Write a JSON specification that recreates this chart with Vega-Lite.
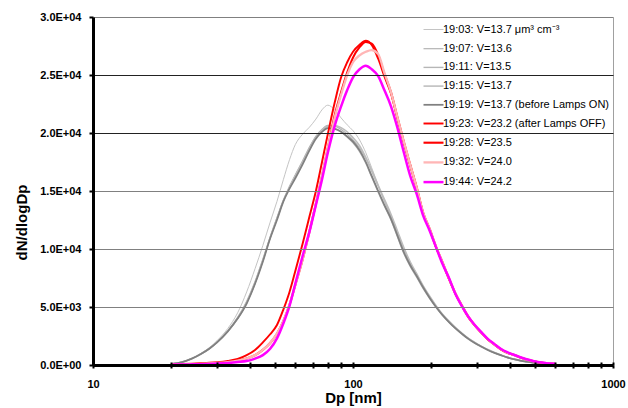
{
"$schema":"https://vega.github.io/schema/vega-lite/v6.json",
"width":520,"height":348,"autosize":"none",
"padding":{"left":93,"top":17,"right":15,"bottom":43},
"background":"white",
"datasets":{
"labels":[
{"t":"19:03","label":"19:03: V=13.7  μm³ cm⁻³"},
{"t":"19:07","label":"19:07: V=13.6"},
{"t":"19:11","label":"19:11: V=13.5"},
{"t":"19:15","label":"19:15: V=13.7"},
{"t":"19:19","label":"19:19: V=13.7 (before Lamps ON)"},
{"t":"19:23","label":"19:23: V=23.2 (after Lamps OFF)"},
{"t":"19:28","label":"19:28: V=23.5"},
{"t":"19:32","label":"19:32: V=24.0"},
{"t":"19:44","label":"19:44: V=24.2"}
],
"pts":[
{"t":"19:03","d":20,"v":100},{"t":"19:03","d":22,"v":260},{"t":"19:03","d":24,"v":560},{"t":"19:03","d":26,"v":1000},{"t":"19:03","d":28,"v":1500},{"t":"19:03","d":30,"v":2100},{"t":"19:03","d":33,"v":3150},{"t":"19:03","d":36,"v":4500},{"t":"19:03","d":39,"v":6300},{"t":"19:03","d":42,"v":8300},{"t":"19:03","d":45,"v":10300},{"t":"19:03","d":48,"v":12300},{"t":"19:03","d":51,"v":14100},{"t":"19:03","d":54,"v":16000},{"t":"19:03","d":57,"v":17700},{"t":"19:03","d":60,"v":19000},{"t":"19:03","d":64,"v":19900},{"t":"19:03","d":68,"v":20500},{"t":"19:03","d":72,"v":21200},{"t":"19:03","d":76,"v":22000},{"t":"19:03","d":80,"v":22400},{"t":"19:03","d":85,"v":22000},{"t":"19:03","d":90,"v":21300},{"t":"19:03","d":95,"v":20700},{"t":"19:03","d":100,"v":20200},{"t":"19:03","d":106,"v":19400},{"t":"19:03","d":112,"v":18300},{"t":"19:03","d":118,"v":17000},{"t":"19:03","d":125,"v":15500},{"t":"19:03","d":132,"v":14100},{"t":"19:03","d":140,"v":12800},{"t":"19:03","d":148,"v":11300},{"t":"19:03","d":157,"v":9800},{"t":"19:03","d":166,"v":8700},{"t":"19:03","d":176,"v":7700},{"t":"19:03","d":186,"v":6700},{"t":"19:03","d":197,"v":5800},{"t":"19:03","d":209,"v":5000},{"t":"19:03","d":221,"v":4300},{"t":"19:03","d":234,"v":3700},{"t":"19:03","d":248,"v":3150},{"t":"19:03","d":262,"v":2700},{"t":"19:03","d":278,"v":2250},{"t":"19:03","d":294,"v":1900},{"t":"19:03","d":311,"v":1600},{"t":"19:03","d":330,"v":1300},{"t":"19:03","d":350,"v":1050},{"t":"19:03","d":370,"v":850},{"t":"19:03","d":392,"v":650},{"t":"19:03","d":415,"v":500},{"t":"19:03","d":440,"v":370},{"t":"19:03","d":465,"v":280},{"t":"19:03","d":493,"v":200},{"t":"19:03","d":522,"v":150},{"t":"19:03","d":553,"v":110},{"t":"19:03","d":600,"v":80},
{"t":"19:07","d":20,"v":110},{"t":"19:07","d":22,"v":260},{"t":"19:07","d":24,"v":560},{"t":"19:07","d":26,"v":960},{"t":"19:07","d":28,"v":1420},{"t":"19:07","d":30,"v":1980},{"t":"19:07","d":33,"v":2950},{"t":"19:07","d":36,"v":4100},{"t":"19:07","d":39,"v":5500},{"t":"19:07","d":42,"v":7200},{"t":"19:07","d":45,"v":9100},{"t":"19:07","d":48,"v":11000},{"t":"19:07","d":51,"v":12700},{"t":"19:07","d":54,"v":14200},{"t":"19:07","d":57,"v":15400},{"t":"19:07","d":60,"v":16400},{"t":"19:07","d":64,"v":17600},{"t":"19:07","d":68,"v":18800},{"t":"19:07","d":72,"v":19700},{"t":"19:07","d":76,"v":20300},{"t":"19:07","d":80,"v":20650},{"t":"19:07","d":85,"v":20600},{"t":"19:07","d":90,"v":20300},{"t":"19:07","d":95,"v":19900},{"t":"19:07","d":100,"v":19400},{"t":"19:07","d":106,"v":18700},{"t":"19:07","d":112,"v":17800},{"t":"19:07","d":118,"v":16700},{"t":"19:07","d":125,"v":15400},{"t":"19:07","d":132,"v":14200},{"t":"19:07","d":140,"v":12900},{"t":"19:07","d":148,"v":11500},{"t":"19:07","d":157,"v":10000},{"t":"19:07","d":166,"v":8800},{"t":"19:07","d":176,"v":7800},{"t":"19:07","d":186,"v":6800},{"t":"19:07","d":197,"v":5900},{"t":"19:07","d":209,"v":5050},{"t":"19:07","d":221,"v":4350},{"t":"19:07","d":234,"v":3750},{"t":"19:07","d":248,"v":3200},{"t":"19:07","d":262,"v":2750},{"t":"19:07","d":278,"v":2300},{"t":"19:07","d":294,"v":1950},{"t":"19:07","d":311,"v":1620},{"t":"19:07","d":330,"v":1320},{"t":"19:07","d":350,"v":1070},{"t":"19:07","d":370,"v":860},{"t":"19:07","d":392,"v":660},{"t":"19:07","d":415,"v":510},{"t":"19:07","d":440,"v":380},{"t":"19:07","d":465,"v":285},{"t":"19:07","d":493,"v":205},{"t":"19:07","d":522,"v":150},{"t":"19:07","d":553,"v":110},{"t":"19:07","d":600,"v":80},
{"t":"19:11","d":20,"v":95},{"t":"19:11","d":22,"v":240},{"t":"19:11","d":24,"v":540},{"t":"19:11","d":26,"v":940},{"t":"19:11","d":28,"v":1390},{"t":"19:11","d":30,"v":1940},{"t":"19:11","d":33,"v":2880},{"t":"19:11","d":36,"v":4000},{"t":"19:11","d":39,"v":5350},{"t":"19:11","d":42,"v":7050},{"t":"19:11","d":45,"v":9000},{"t":"19:11","d":48,"v":10950},{"t":"19:11","d":51,"v":12600},{"t":"19:11","d":54,"v":14150},{"t":"19:11","d":57,"v":15300},{"t":"19:11","d":60,"v":16300},{"t":"19:11","d":64,"v":17500},{"t":"19:11","d":68,"v":18700},{"t":"19:11","d":72,"v":19700},{"t":"19:11","d":76,"v":20300},{"t":"19:11","d":80,"v":20550},{"t":"19:11","d":85,"v":20400},{"t":"19:11","d":90,"v":20100},{"t":"19:11","d":95,"v":19650},{"t":"19:11","d":100,"v":19150},{"t":"19:11","d":106,"v":18400},{"t":"19:11","d":112,"v":17400},{"t":"19:11","d":118,"v":16200},{"t":"19:11","d":125,"v":14900},{"t":"19:11","d":132,"v":13700},{"t":"19:11","d":140,"v":12500},{"t":"19:11","d":148,"v":11100},{"t":"19:11","d":157,"v":9600},{"t":"19:11","d":166,"v":8500},{"t":"19:11","d":176,"v":7550},{"t":"19:11","d":186,"v":6600},{"t":"19:11","d":197,"v":5750},{"t":"19:11","d":209,"v":4950},{"t":"19:11","d":221,"v":4280},{"t":"19:11","d":234,"v":3680},{"t":"19:11","d":248,"v":3130},{"t":"19:11","d":262,"v":2680},{"t":"19:11","d":278,"v":2230},{"t":"19:11","d":294,"v":1880},{"t":"19:11","d":311,"v":1580},{"t":"19:11","d":330,"v":1290},{"t":"19:11","d":350,"v":1040},{"t":"19:11","d":370,"v":840},{"t":"19:11","d":392,"v":640},{"t":"19:11","d":415,"v":490},{"t":"19:11","d":440,"v":365},{"t":"19:11","d":465,"v":275},{"t":"19:11","d":493,"v":195},{"t":"19:11","d":522,"v":145},{"t":"19:11","d":553,"v":105},{"t":"19:11","d":600,"v":78},
{"t":"19:15","d":20,"v":105},{"t":"19:15","d":22,"v":255},{"t":"19:15","d":24,"v":555},{"t":"19:15","d":26,"v":955},{"t":"19:15","d":28,"v":1410},{"t":"19:15","d":30,"v":1960},{"t":"19:15","d":33,"v":2920},{"t":"19:15","d":36,"v":4050},{"t":"19:15","d":39,"v":5400},{"t":"19:15","d":42,"v":7100},{"t":"19:15","d":45,"v":9050},{"t":"19:15","d":48,"v":11000},{"t":"19:15","d":51,"v":12650},{"t":"19:15","d":54,"v":14200},{"t":"19:15","d":57,"v":15350},{"t":"19:15","d":60,"v":16300},{"t":"19:15","d":64,"v":17450},{"t":"19:15","d":68,"v":18600},{"t":"19:15","d":72,"v":19600},{"t":"19:15","d":76,"v":20250},{"t":"19:15","d":80,"v":20600},{"t":"19:15","d":85,"v":20650},{"t":"19:15","d":90,"v":20450},{"t":"19:15","d":95,"v":20100},{"t":"19:15","d":100,"v":19600},{"t":"19:15","d":106,"v":18900},{"t":"19:15","d":112,"v":17900},{"t":"19:15","d":118,"v":16800},{"t":"19:15","d":125,"v":15500},{"t":"19:15","d":132,"v":14300},{"t":"19:15","d":140,"v":13000},{"t":"19:15","d":148,"v":11600},{"t":"19:15","d":157,"v":10100},{"t":"19:15","d":166,"v":8900},{"t":"19:15","d":176,"v":7850},{"t":"19:15","d":186,"v":6850},{"t":"19:15","d":197,"v":5950},{"t":"19:15","d":209,"v":5100},{"t":"19:15","d":221,"v":4380},{"t":"19:15","d":234,"v":3780},{"t":"19:15","d":248,"v":3220},{"t":"19:15","d":262,"v":2760},{"t":"19:15","d":278,"v":2300},{"t":"19:15","d":294,"v":1950},{"t":"19:15","d":311,"v":1630},{"t":"19:15","d":330,"v":1330},{"t":"19:15","d":350,"v":1080},{"t":"19:15","d":370,"v":870},{"t":"19:15","d":392,"v":670},{"t":"19:15","d":415,"v":515},{"t":"19:15","d":440,"v":385},{"t":"19:15","d":465,"v":290},{"t":"19:15","d":493,"v":210},{"t":"19:15","d":522,"v":155},{"t":"19:15","d":553,"v":112},{"t":"19:15","d":600,"v":82},
{"t":"19:19","d":20,"v":100},{"t":"19:19","d":22,"v":250},{"t":"19:19","d":24,"v":550},{"t":"19:19","d":26,"v":950},{"t":"19:19","d":28,"v":1400},{"t":"19:19","d":30,"v":1950},{"t":"19:19","d":33,"v":2900},{"t":"19:19","d":36,"v":4000},{"t":"19:19","d":39,"v":5300},{"t":"19:19","d":42,"v":7000},{"t":"19:19","d":45,"v":8900},{"t":"19:19","d":48,"v":10900},{"t":"19:19","d":51,"v":12500},{"t":"19:19","d":54,"v":14100},{"t":"19:19","d":57,"v":15200},{"t":"19:19","d":60,"v":16100},{"t":"19:19","d":64,"v":17300},{"t":"19:19","d":68,"v":18500},{"t":"19:19","d":72,"v":19500},{"t":"19:19","d":76,"v":20100},{"t":"19:19","d":80,"v":20430},{"t":"19:19","d":85,"v":20350},{"t":"19:19","d":90,"v":20100},{"t":"19:19","d":95,"v":19700},{"t":"19:19","d":100,"v":19250},{"t":"19:19","d":106,"v":18500},{"t":"19:19","d":112,"v":17500},{"t":"19:19","d":118,"v":16300},{"t":"19:19","d":125,"v":15000},{"t":"19:19","d":132,"v":13800},{"t":"19:19","d":140,"v":12600},{"t":"19:19","d":148,"v":11200},{"t":"19:19","d":157,"v":9700},{"t":"19:19","d":166,"v":8600},{"t":"19:19","d":176,"v":7650},{"t":"19:19","d":186,"v":6700},{"t":"19:19","d":197,"v":5800},{"t":"19:19","d":209,"v":4980},{"t":"19:19","d":221,"v":4300},{"t":"19:19","d":234,"v":3700},{"t":"19:19","d":248,"v":3150},{"t":"19:19","d":262,"v":2700},{"t":"19:19","d":278,"v":2250},{"t":"19:19","d":294,"v":1900},{"t":"19:19","d":311,"v":1600},{"t":"19:19","d":330,"v":1300},{"t":"19:19","d":350,"v":1050},{"t":"19:19","d":370,"v":850},{"t":"19:19","d":392,"v":650},{"t":"19:19","d":415,"v":500},{"t":"19:19","d":440,"v":370},{"t":"19:19","d":465,"v":280},{"t":"19:19","d":493,"v":200},{"t":"19:19","d":522,"v":150},{"t":"19:19","d":553,"v":110},{"t":"19:19","d":600,"v":80},
{"t":"19:23","d":20,"v":60},{"t":"19:23","d":22,"v":80},{"t":"19:23","d":24,"v":110},{"t":"19:23","d":26,"v":150},{"t":"19:23","d":28,"v":190},{"t":"19:23","d":30,"v":240},{"t":"19:23","d":33,"v":350},{"t":"19:23","d":36,"v":520},{"t":"19:23","d":39,"v":850},{"t":"19:23","d":42,"v":1300},{"t":"19:23","d":45,"v":1950},{"t":"19:23","d":48,"v":2650},{"t":"19:23","d":51,"v":3450},{"t":"19:23","d":54,"v":4800},{"t":"19:23","d":57,"v":6300},{"t":"19:23","d":60,"v":8100},{"t":"19:23","d":64,"v":10450},{"t":"19:23","d":68,"v":12800},{"t":"19:23","d":72,"v":15000},{"t":"19:23","d":76,"v":17500},{"t":"19:23","d":80,"v":19900},{"t":"19:23","d":85,"v":22600},{"t":"19:23","d":90,"v":24800},{"t":"19:23","d":95,"v":26100},{"t":"19:23","d":100,"v":27000},{"t":"19:23","d":106,"v":27600},{"t":"19:23","d":112,"v":27950},{"t":"19:23","d":118,"v":27600},{"t":"19:23","d":125,"v":26400},{"t":"19:23","d":132,"v":24900},{"t":"19:23","d":140,"v":23400},{"t":"19:23","d":148,"v":21300},{"t":"19:23","d":157,"v":19100},{"t":"19:23","d":166,"v":17200},{"t":"19:23","d":176,"v":15200},{"t":"19:23","d":186,"v":13100},{"t":"19:23","d":197,"v":11700},{"t":"19:23","d":209,"v":10100},{"t":"19:23","d":221,"v":8800},{"t":"19:23","d":234,"v":7400},{"t":"19:23","d":248,"v":6100},{"t":"19:23","d":262,"v":5100},{"t":"19:23","d":278,"v":4100},{"t":"19:23","d":294,"v":3400},{"t":"19:23","d":311,"v":2800},{"t":"19:23","d":330,"v":2200},{"t":"19:23","d":350,"v":1750},{"t":"19:23","d":370,"v":1350},{"t":"19:23","d":392,"v":1050},{"t":"19:23","d":415,"v":880},{"t":"19:23","d":440,"v":650},{"t":"19:23","d":465,"v":470},{"t":"19:23","d":493,"v":340},{"t":"19:23","d":522,"v":220},{"t":"19:23","d":553,"v":150},{"t":"19:23","d":600,"v":90},
{"t":"19:28","d":20,"v":40},{"t":"19:28","d":22,"v":55},{"t":"19:28","d":24,"v":75},{"t":"19:28","d":26,"v":100},{"t":"19:28","d":28,"v":130},{"t":"19:28","d":30,"v":170},{"t":"19:28","d":33,"v":250},{"t":"19:28","d":36,"v":370},{"t":"19:28","d":39,"v":560},{"t":"19:28","d":42,"v":850},{"t":"19:28","d":45,"v":1300},{"t":"19:28","d":48,"v":1900},{"t":"19:28","d":51,"v":2700},{"t":"19:28","d":54,"v":3800},{"t":"19:28","d":57,"v":5200},{"t":"19:28","d":60,"v":6900},{"t":"19:28","d":64,"v":9100},{"t":"19:28","d":68,"v":11500},{"t":"19:28","d":72,"v":13900},{"t":"19:28","d":76,"v":16300},{"t":"19:28","d":80,"v":18700},{"t":"19:28","d":85,"v":21500},{"t":"19:28","d":90,"v":23500},{"t":"19:28","d":95,"v":25200},{"t":"19:28","d":100,"v":26500},{"t":"19:28","d":106,"v":27400},{"t":"19:28","d":112,"v":27850},{"t":"19:28","d":118,"v":27700},{"t":"19:28","d":125,"v":26700},{"t":"19:28","d":132,"v":25100},{"t":"19:28","d":140,"v":23500},{"t":"19:28","d":148,"v":21400},{"t":"19:28","d":157,"v":19200},{"t":"19:28","d":166,"v":17250},{"t":"19:28","d":176,"v":15250},{"t":"19:28","d":186,"v":13150},{"t":"19:28","d":197,"v":11750},{"t":"19:28","d":209,"v":10150},{"t":"19:28","d":221,"v":8850},{"t":"19:28","d":234,"v":7450},{"t":"19:28","d":248,"v":6150},{"t":"19:28","d":262,"v":5150},{"t":"19:28","d":278,"v":4150},{"t":"19:28","d":294,"v":3420},{"t":"19:28","d":311,"v":2820},{"t":"19:28","d":330,"v":2220},{"t":"19:28","d":350,"v":1770},{"t":"19:28","d":370,"v":1370},{"t":"19:28","d":392,"v":1060},{"t":"19:28","d":415,"v":880},{"t":"19:28","d":440,"v":650},{"t":"19:28","d":465,"v":470},{"t":"19:28","d":493,"v":340},{"t":"19:28","d":522,"v":220},{"t":"19:28","d":553,"v":150},{"t":"19:28","d":600,"v":90},
{"t":"19:32","d":20,"v":40},{"t":"19:32","d":22,"v":55},{"t":"19:32","d":24,"v":75},{"t":"19:32","d":26,"v":100},{"t":"19:32","d":28,"v":130},{"t":"19:32","d":30,"v":170},{"t":"19:32","d":33,"v":250},{"t":"19:32","d":36,"v":370},{"t":"19:32","d":39,"v":560},{"t":"19:32","d":42,"v":850},{"t":"19:32","d":45,"v":1300},{"t":"19:32","d":48,"v":1900},{"t":"19:32","d":51,"v":2700},{"t":"19:32","d":54,"v":3800},{"t":"19:32","d":57,"v":5200},{"t":"19:32","d":60,"v":6900},{"t":"19:32","d":64,"v":9100},{"t":"19:32","d":68,"v":11500},{"t":"19:32","d":72,"v":13900},{"t":"19:32","d":76,"v":16300},{"t":"19:32","d":80,"v":18700},{"t":"19:32","d":85,"v":21300},{"t":"19:32","d":90,"v":23300},{"t":"19:32","d":95,"v":25000},{"t":"19:32","d":100,"v":26100},{"t":"19:32","d":106,"v":26700},{"t":"19:32","d":112,"v":27000},{"t":"19:32","d":118,"v":27150},{"t":"19:32","d":125,"v":26800},{"t":"19:32","d":132,"v":25200},{"t":"19:32","d":140,"v":23500},{"t":"19:32","d":148,"v":21400},{"t":"19:32","d":157,"v":19200},{"t":"19:32","d":166,"v":17250},{"t":"19:32","d":176,"v":15250},{"t":"19:32","d":186,"v":13150},{"t":"19:32","d":197,"v":11750},{"t":"19:32","d":209,"v":10150},{"t":"19:32","d":221,"v":8850},{"t":"19:32","d":234,"v":7450},{"t":"19:32","d":248,"v":6150},{"t":"19:32","d":262,"v":5150},{"t":"19:32","d":278,"v":4150},{"t":"19:32","d":294,"v":3420},{"t":"19:32","d":311,"v":2820},{"t":"19:32","d":330,"v":2220},{"t":"19:32","d":350,"v":1770},{"t":"19:32","d":370,"v":1370},{"t":"19:32","d":392,"v":1060},{"t":"19:32","d":415,"v":880},{"t":"19:32","d":440,"v":650},{"t":"19:32","d":465,"v":470},{"t":"19:32","d":493,"v":340},{"t":"19:32","d":522,"v":220},{"t":"19:32","d":553,"v":150},{"t":"19:32","d":600,"v":90},
{"t":"19:44","d":20,"v":30},{"t":"19:44","d":22,"v":40},{"t":"19:44","d":24,"v":55},{"t":"19:44","d":26,"v":70},{"t":"19:44","d":28,"v":90},{"t":"19:44","d":30,"v":120},{"t":"19:44","d":33,"v":180},{"t":"19:44","d":36,"v":260},{"t":"19:44","d":39,"v":340},{"t":"19:44","d":42,"v":550},{"t":"19:44","d":45,"v":850},{"t":"19:44","d":48,"v":1400},{"t":"19:44","d":51,"v":2300},{"t":"19:44","d":54,"v":3600},{"t":"19:44","d":57,"v":5100},{"t":"19:44","d":60,"v":7000},{"t":"19:44","d":64,"v":9400},{"t":"19:44","d":68,"v":11500},{"t":"19:44","d":72,"v":13800},{"t":"19:44","d":76,"v":16000},{"t":"19:44","d":80,"v":18300},{"t":"19:44","d":85,"v":20600},{"t":"19:44","d":90,"v":22300},{"t":"19:44","d":95,"v":23700},{"t":"19:44","d":100,"v":24800},{"t":"19:44","d":106,"v":25500},{"t":"19:44","d":112,"v":25800},{"t":"19:44","d":118,"v":25500},{"t":"19:44","d":125,"v":24900},{"t":"19:44","d":132,"v":23700},{"t":"19:44","d":140,"v":22300},{"t":"19:44","d":148,"v":20500},{"t":"19:44","d":157,"v":18300},{"t":"19:44","d":166,"v":16300},{"t":"19:44","d":176,"v":14700},{"t":"19:44","d":186,"v":12900},{"t":"19:44","d":197,"v":11600},{"t":"19:44","d":209,"v":10100},{"t":"19:44","d":221,"v":8700},{"t":"19:44","d":234,"v":7500},{"t":"19:44","d":248,"v":6100},{"t":"19:44","d":262,"v":5100},{"t":"19:44","d":278,"v":4150},{"t":"19:44","d":294,"v":3450},{"t":"19:44","d":311,"v":2850},{"t":"19:44","d":330,"v":2250},{"t":"19:44","d":350,"v":1800},{"t":"19:44","d":370,"v":1400},{"t":"19:44","d":392,"v":1100},{"t":"19:44","d":415,"v":880},{"t":"19:44","d":440,"v":670},{"t":"19:44","d":465,"v":490},{"t":"19:44","d":493,"v":350},{"t":"19:44","d":522,"v":230},{"t":"19:44","d":553,"v":160},{"t":"19:44","d":600,"v":100}
]
},
"layer":[
{"data":{"name":"pts"},
"transform":[{"filter":"datum.t < '19:20'"},{"lookup":"t","from":{"data":{"name":"labels"},"key":"t","fields":["label"]}}],
"mark":{"type":"line","interpolate":"monotone","strokeJoin":"round"},
"encoding":{
"x":{"field":"d","type":"quantitative","scale":{"type":"log","domain":[10,1000],"nice":false},
"axis":{"orient":"bottom","values":[10,20,30,40,50,60,70,80,90,100,200,300,400,500,600,700,800,900,1000],"format":"d","labelExpr":"datum.value==10||datum.value==100||datum.value==1000 ? datum.label : ''","labelOverlap":false,"labelFlush":false,"domain":true,"domainWidth":3,"domainColor":"#000000","ticks":true,"zindex":1,"tickSize":3,"labelPadding":10,"grid":false,"title":"Dp [nm]","titleY":25}},
"y":{"field":"v","type":"quantitative","scale":{"domain":[0,30000],"nice":false},
"axis":{"orient":"left","values":[0,5000,10000,15000,20000,25000,30000],"labelExpr":"replace(replace(format(datum.value,'.1e'),'e+','E+0'),'e-','E-0')","domain":true,"domainWidth":3,"domainColor":"#000000","ticks":true,"zindex":1,"tickSize":4,"labelPadding":8,"grid":true,"gridColor":{"condition":{"test":"datum.value==20000||datum.value==25000","value":"#222222"},"value":"#808080"},"gridWidth":1,"title":"dN/dlogDp","titleX":-64,"titleY":205}},
"color":{"field":"label","type":"nominal","title":null,
"scale":{"domain":["19:03: V=13.7  μm³ cm⁻³","19:07: V=13.6","19:11: V=13.5","19:15: V=13.7","19:19: V=13.7 (before Lamps ON)","19:23: V=23.2 (after Lamps OFF)","19:28: V=23.5","19:32: V=24.0","19:44: V=24.2"],
"range":["#c4c4c4","#b2b2b2","#b6b6b6","#bdbdbd","#808080","#ff0000","#ff0000","#ffb6b6","#ff00ff"]}},
"strokeWidth":{"field":"label","type":"nominal","title":null,
"scale":{"domain":["19:03: V=13.7  μm³ cm⁻³","19:07: V=13.6","19:11: V=13.5","19:15: V=13.7","19:19: V=13.7 (before Lamps ON)","19:23: V=23.2 (after Lamps OFF)","19:28: V=23.5","19:32: V=24.0","19:44: V=24.2"],
"range":[1,2.5,2.5,2,2.5,3,2.5,1,2]}}}},
{"data":{"name":"pts"},
"transform":[{"filter":"datum.t > '19:20'"},{"lookup":"t","from":{"data":{"name":"labels"},"key":"t","fields":["label"]}}],
"mark":{"type":"line","interpolate":"monotone","strokeJoin":"round"},
"encoding":{
"x":{"field":"d","type":"quantitative","scale":{"type":"log","domain":[10,1000],"nice":false},
"axis":{"orient":"bottom","values":[10,20,30,40,50,60,70,80,90,100,200,300,400,500,600,700,800,900,1000],"offset":-3,"tickSize":3,"domain":false,"labels":false,"ticks":true,"zindex":1,"grid":false,"title":null}},
"y":{"field":"v","type":"quantitative","scale":{"domain":[0,30000],"nice":false},
"axis":{"orient":"right","domain":true,"domainColor":"#a0a0a0","domainWidth":1,"ticks":false,"labels":false,"grid":false,"title":null}},
"color":{"field":"label","type":"nominal","title":null},
"strokeWidth":{"field":"label","type":"nominal","title":null}}}
],
"resolve":{"axis":{"x":"independent","y":"independent"}},
"config":{
"font":"Liberation Sans",
"view":{"stroke":null},
"axis":{"labelFont":"Liberation Sans","labelFontWeight":"bold","labelFontSize":11,"labelColor":"#000000","titleFont":"Liberation Sans","titleFontWeight":"bold","titleFontSize":15,"titleColor":"#000000","tickColor":"#000000","tickWidth":2},
"legend":{"orient":"none","legendX":327,"legendY":0,"fillColor":"#ffffff","padding":2,"symbolType":"stroke","symbolSize":400,"labelFont":"Liberation Sans","labelFontSize":11,"labelColor":"#000000","rowPadding":2.7,"labelOffset":-2,"labelLimit":300}
}
}
